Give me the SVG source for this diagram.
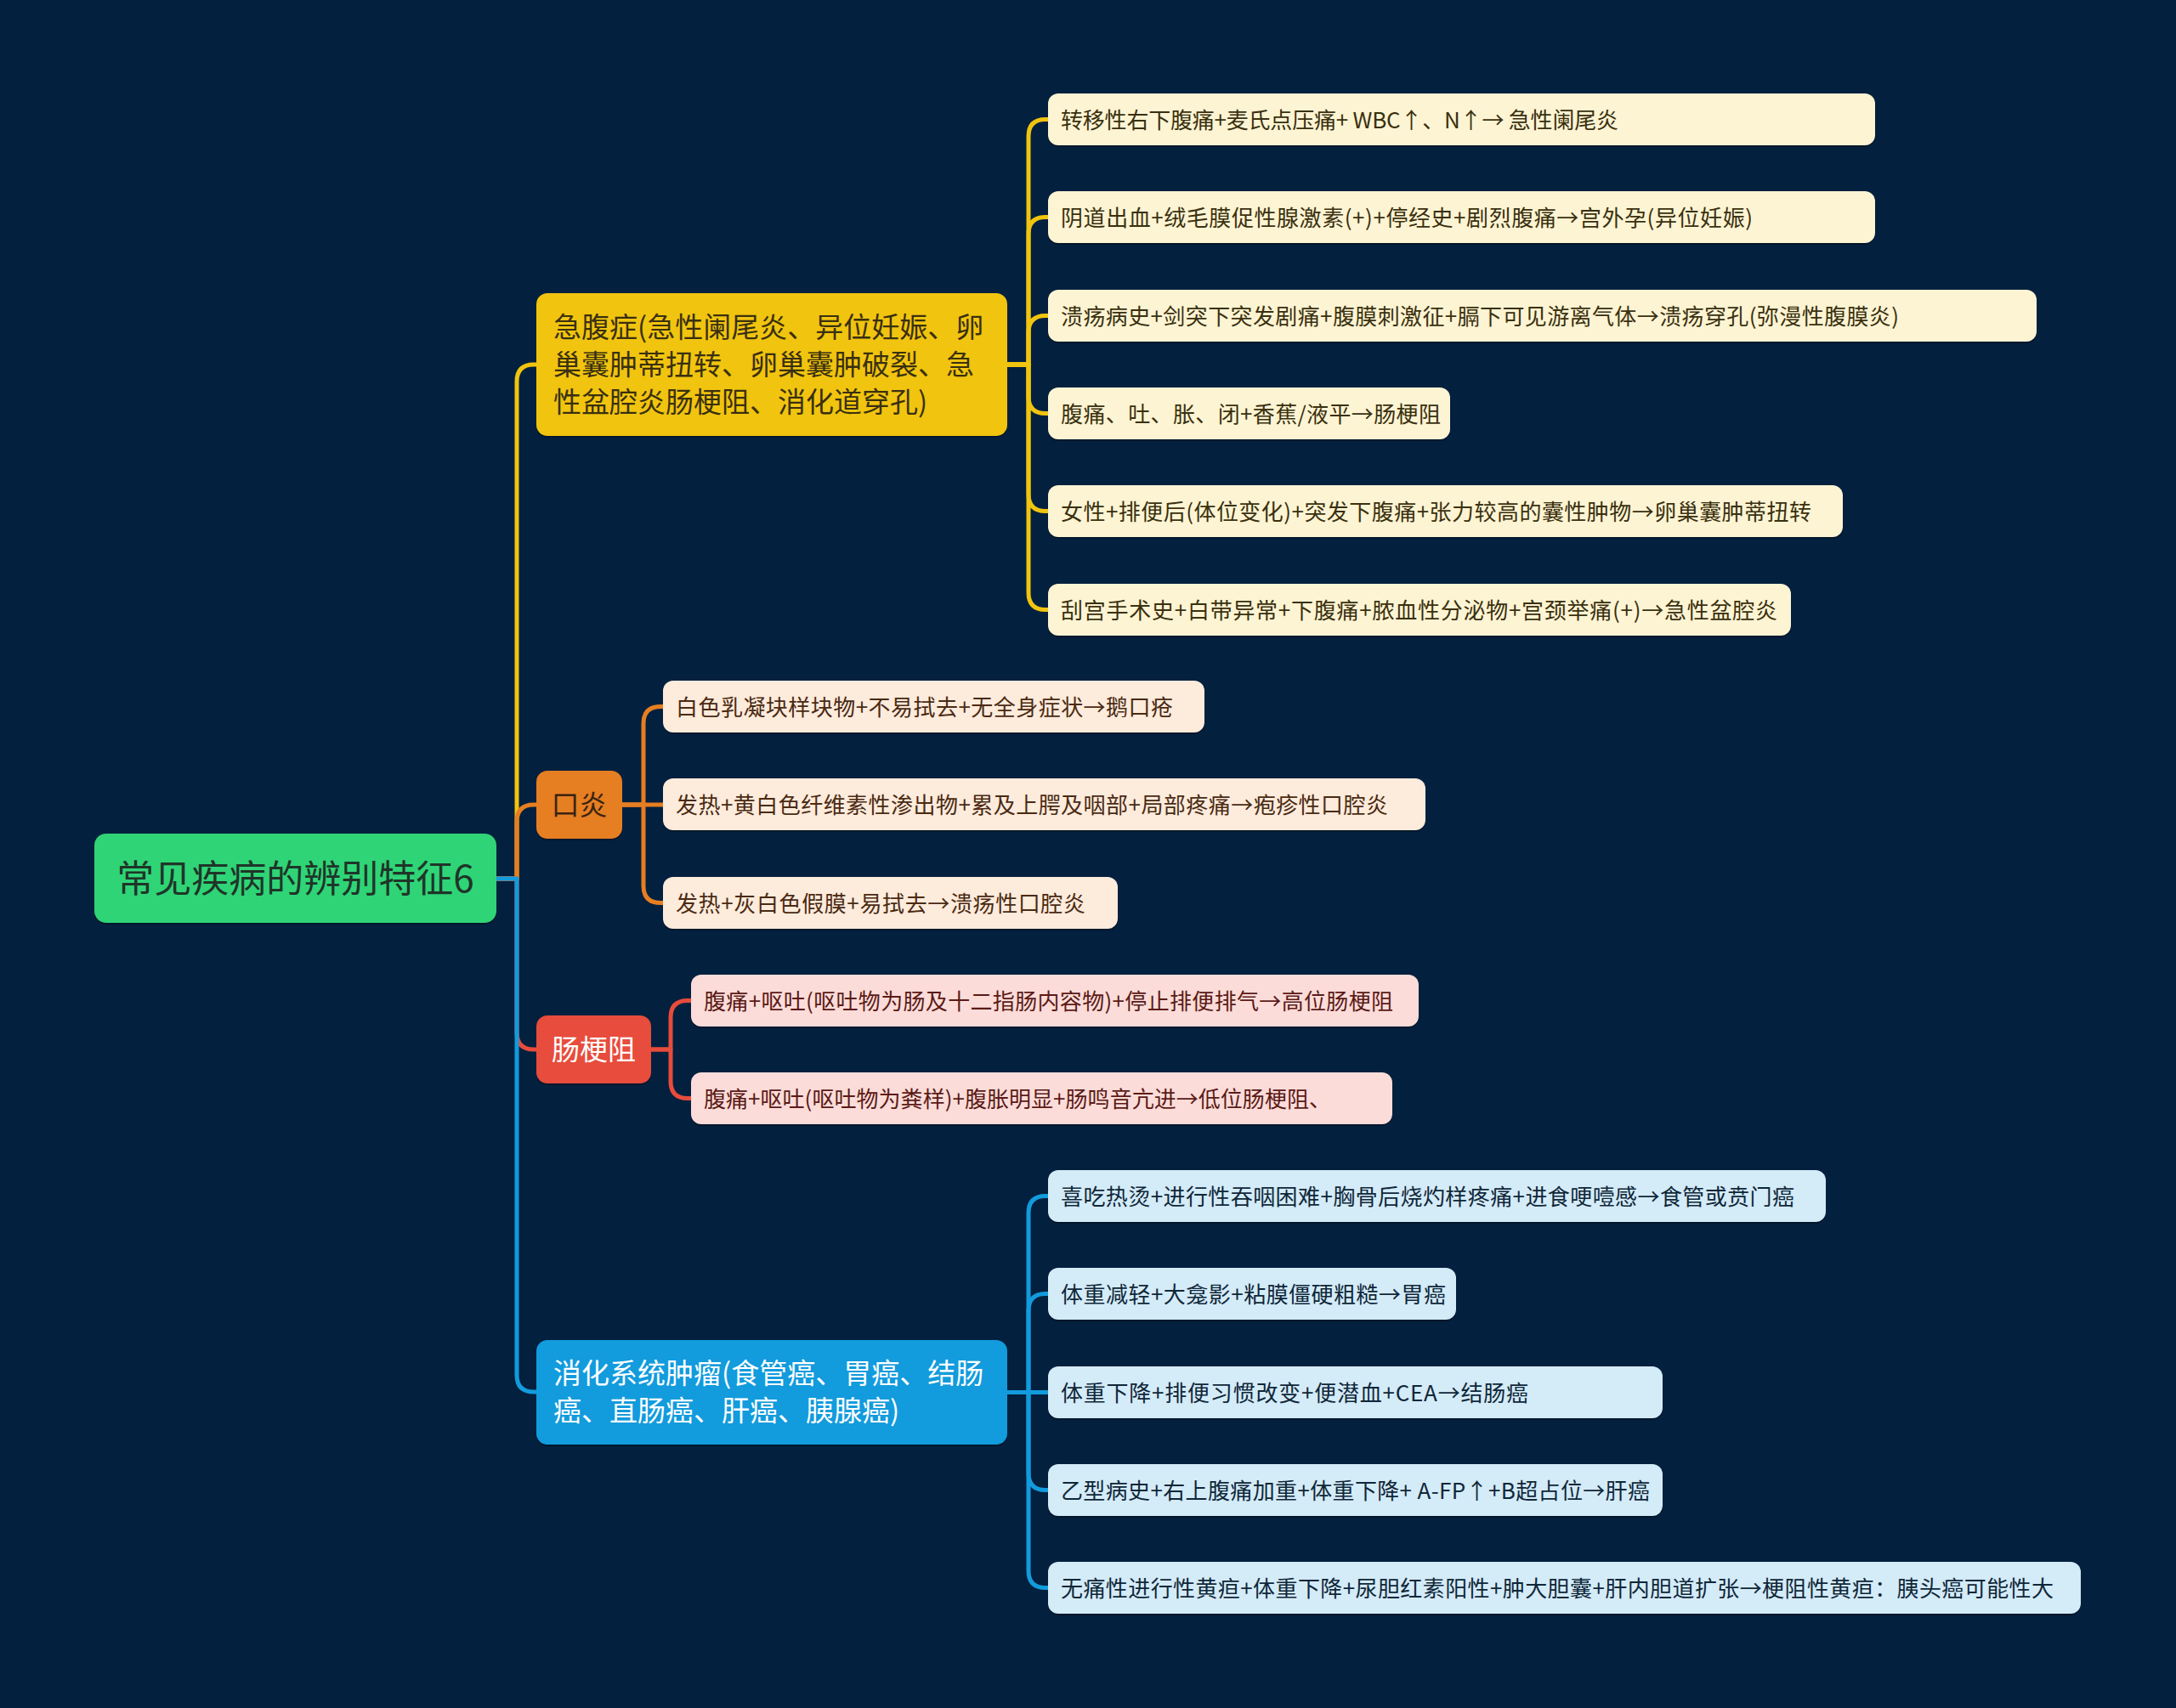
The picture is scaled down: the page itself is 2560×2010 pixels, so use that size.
<svg xmlns="http://www.w3.org/2000/svg" width="2560" height="2010" viewBox="0 0 2560 2010">
<style>
text{font-family:"Noto Sans CJK SC","Noto Sans",sans-serif}
.c{fill:none;stroke-width:5;stroke-linejoin:round;stroke-linecap:butt}
.cy{stroke:#f1c40f}.co{stroke:#e67e22}.cr{stroke:#e74c3c}.cb{stroke:#129bdd}
.sh{fill:#000;opacity:0.28}
.lf{font-size:26px}
.ly rect.b{fill:#fdf4d3}.ly text{fill:#3a300f}
.lo rect.b{fill:#fdebdc}.lo text{fill:#4a2a12}
.lr rect.b{fill:#fbdcd9}.lr text{fill:#5b1a16}
.lb rect.b{fill:#d4ebf8}.lb text{fill:#0f2738}
.m{font-size:33px}
</style>
<rect width="2560" height="2010" fill="#03203e"/>
<g id="connectors">
<path class="c cy" d="M584,1034 H608 V449 Q608,429 628,429 H633"/>
<path class="c co" d="M584,1034 H608 V967 Q608,947 628,947 H633"/>
<path class="c cr" d="M584,1034 H608 V1215 Q608,1235 628,1235 H633"/>
<path class="c cb" d="M584,1034 H608 V1618 Q608,1638 628,1638 H633"/>
<path class="c cy" d="M1185,429 H1210 V160.5 Q1210,140.5 1230,140.5 H1235"/>
<path class="c cy" d="M1185,429 H1210 V275.5 Q1210,255.5 1230,255.5 H1235"/>
<path class="c cy" d="M1185,429 H1210 V391.5 Q1210,371.5 1230,371.5 H1235"/>
<path class="c cy" d="M1185,429 H1210 V466.5 Q1210,486.5 1230,486.5 H1235"/>
<path class="c cy" d="M1185,429 H1210 V581.5 Q1210,601.5 1230,601.5 H1235"/>
<path class="c cy" d="M1185,429 H1210 V697.5 Q1210,717.5 1230,717.5 H1235"/>
<path class="c co" d="M732,947 H757 V851.5 Q757,831.5 777,831.5 H782"/>
<path class="c co" d="M732,947 H782"/>
<path class="c co" d="M732,947 H757 V1042.5 Q757,1062.5 777,1062.5 H782"/>
<path class="c cr" d="M766,1235 H789 V1197.5 Q789,1177.5 809,1177.5 H815"/>
<path class="c cr" d="M766,1235 H789 V1272.5 Q789,1292.5 809,1292.5 H815"/>
<path class="c cb" d="M1185,1638.5 H1210 V1427.5 Q1210,1407.5 1230,1407.5 H1235"/>
<path class="c cb" d="M1185,1638.5 H1210 V1542.5 Q1210,1522.5 1230,1522.5 H1235"/>
<path class="c cb" d="M1185,1638.5 H1235"/>
<path class="c cb" d="M1185,1638.5 H1210 V1733.5 Q1210,1753.5 1230,1753.5 H1235"/>
<path class="c cb" d="M1185,1638.5 H1210 V1848.5 Q1210,1868.5 1230,1868.5 H1235"/>
</g>
<g id="root">
<rect class="sh" x="111" y="983" width="473" height="105" rx="14"/>
<rect x="111" y="981" width="473" height="105" rx="14" fill="#2fd476"/>
<text x="347.5" y="1050" font-size="44" text-anchor="middle" fill="#1f3529">常见疾病的辨别特征6</text>
</g>
<g id="n-jifu">
<rect class="sh" x="631" y="347" width="554" height="168" rx="13"/>
<rect x="631" y="345" width="554" height="168" rx="13" fill="#f1c40f"/>
<text class="m" fill="#3a3010"><tspan x="651" y="397">急腹症(急性阑尾炎、异位妊娠、卵</tspan><tspan x="651" y="441">巢囊肿蒂扭转、卵巢囊肿破裂、急</tspan><tspan x="651" y="485">性盆腔炎肠梗阻、消化道穿孔)</tspan></text>
</g>
<g id="n-kouyan">
<rect class="sh" x="631" y="909" width="101" height="80" rx="13"/>
<rect x="631" y="907" width="101" height="80" rx="13" fill="#e67e22"/>
<text class="m" x="681.5" y="959" text-anchor="middle" fill="#3a2412">口炎</text>
</g>
<g id="n-changgengzu">
<rect class="sh" x="631" y="1197" width="135" height="80" rx="13"/>
<rect x="631" y="1195" width="135" height="80" rx="13" fill="#e74c3c"/>
<text class="m" x="698.5" y="1247" text-anchor="middle" fill="#ffffff">肠梗阻</text>
</g>
<g id="n-xiaohua">
<rect class="sh" x="631" y="1579" width="554" height="123" rx="13"/>
<rect x="631" y="1577" width="554" height="123" rx="13" fill="#129bdd"/>
<text class="m" fill="#ffffff"><tspan x="651" y="1628">消化系统肿瘤(食管癌、胃癌、结肠</tspan><tspan x="651" y="1672">癌、直肠癌、肝癌、胰腺癌)</tspan></text>
</g>
<g id="y1" class="ly"><rect class="sh" x="1233" y="112" width="973" height="61" rx="12"/><rect class="b" x="1233" y="110" width="973" height="61" rx="12"/><text class="lf" x="1248" y="151" textLength="656" lengthAdjust="spacing">转移性右下腹痛+麦氏点压痛+ WBC↑、N↑→ 急性阑尾炎</text></g>
<g id="y2" class="ly"><rect class="sh" x="1233" y="227" width="973" height="61" rx="12"/><rect class="b" x="1233" y="225" width="973" height="61" rx="12"/><text class="lf" x="1248" y="266" textLength="814" lengthAdjust="spacing">阴道出血+绒毛膜促性腺激素(+)+停经史+剧烈腹痛→宫外孕(异位妊娠)</text></g>
<g id="y3" class="ly"><rect class="sh" x="1233" y="343" width="1163" height="61" rx="12"/><rect class="b" x="1233" y="341" width="1163" height="61" rx="12"/><text class="lf" x="1248" y="382" textLength="986" lengthAdjust="spacing">溃疡病史+剑突下突发剧痛+腹膜刺激征+膈下可见游离气体→溃疡穿孔(弥漫性腹膜炎)</text></g>
<g id="y4" class="ly"><rect class="sh" x="1233" y="458" width="473" height="61" rx="12"/><rect class="b" x="1233" y="456" width="473" height="61" rx="12"/><text class="lf" x="1248" y="497" textLength="447" lengthAdjust="spacing">腹痛、吐、胀、闭+香蕉/液平→肠梗阻</text></g>
<g id="y5" class="ly"><rect class="sh" x="1233" y="573" width="935" height="61" rx="12"/><rect class="b" x="1233" y="571" width="935" height="61" rx="12"/><text class="lf" x="1248" y="612" textLength="883" lengthAdjust="spacing">女性+排便后(体位变化)+突发下腹痛+张力较高的囊性肿物→卵巢囊肿蒂扭转</text></g>
<g id="y6" class="ly"><rect class="sh" x="1233" y="689" width="874" height="61" rx="12"/><rect class="b" x="1233" y="687" width="874" height="61" rx="12"/><text class="lf" x="1248" y="728" textLength="843" lengthAdjust="spacing">刮宫手术史+白带异常+下腹痛+脓血性分泌物+宫颈举痛(+)→急性盆腔炎</text></g>
<g id="o1" class="lo"><rect class="sh" x="780" y="803" width="637" height="61" rx="12"/><rect class="b" x="780" y="801" width="637" height="61" rx="12"/><text class="lf" x="795" y="842" textLength="585" lengthAdjust="spacing">白色乳凝块样块物+不易拭去+无全身症状→鹅口疮</text></g>
<g id="o2" class="lo"><rect class="sh" x="780" y="918" width="897" height="61" rx="12"/><rect class="b" x="780" y="916" width="897" height="61" rx="12"/><text class="lf" x="795" y="957" textLength="838" lengthAdjust="spacing">发热+黄白色纤维素性渗出物+累及上腭及咽部+局部疼痛→疱疹性口腔炎</text></g>
<g id="o3" class="lo"><rect class="sh" x="780" y="1034" width="535" height="61" rx="12"/><rect class="b" x="780" y="1032" width="535" height="61" rx="12"/><text class="lf" x="795" y="1073" textLength="482" lengthAdjust="spacing">发热+灰白色假膜+易拭去→溃疡性口腔炎</text></g>
<g id="r1" class="lr"><rect class="sh" x="813" y="1149" width="856" height="61" rx="12"/><rect class="b" x="813" y="1147" width="856" height="61" rx="12"/><text class="lf" x="828" y="1188" textLength="811" lengthAdjust="spacing">腹痛+呕吐(呕吐物为肠及十二指肠内容物)+停止排便排气→高位肠梗阻</text></g>
<g id="r2" class="lr"><rect class="sh" x="813" y="1264" width="825" height="61" rx="12"/><rect class="b" x="813" y="1262" width="825" height="61" rx="12"/><text class="lf" x="828" y="1303" textLength="738" lengthAdjust="spacing">腹痛+呕吐(呕吐物为粪样)+腹胀明显+肠鸣音亢进→低位肠梗阻、</text></g>
<g id="b1" class="lb"><rect class="sh" x="1233" y="1379" width="915" height="61" rx="12"/><rect class="b" x="1233" y="1377" width="915" height="61" rx="12"/><text class="lf" x="1248" y="1418" textLength="863" lengthAdjust="spacing">喜吃热烫+进行性吞咽困难+胸骨后烧灼样疼痛+进食哽噎感→食管或贲门癌</text></g>
<g id="b2" class="lb"><rect class="sh" x="1233" y="1494" width="480" height="61" rx="12"/><rect class="b" x="1233" y="1492" width="480" height="61" rx="12"/><text class="lf" x="1248" y="1533" textLength="453" lengthAdjust="spacing">体重减轻+大龛影+粘膜僵硬粗糙→胃癌</text></g>
<g id="b3" class="lb"><rect class="sh" x="1233" y="1610" width="723" height="61" rx="12"/><rect class="b" x="1233" y="1608" width="723" height="61" rx="12"/><text class="lf" x="1248" y="1649" textLength="550" lengthAdjust="spacing">体重下降+排便习惯改变+便潜血+CEA→结肠癌</text></g>
<g id="b4" class="lb"><rect class="sh" x="1233" y="1725" width="723" height="61" rx="12"/><rect class="b" x="1233" y="1723" width="723" height="61" rx="12"/><text class="lf" x="1248" y="1764" textLength="693" lengthAdjust="spacing">乙型病史+右上腹痛加重+体重下降+ A-FP↑+B超占位→肝癌</text></g>
<g id="b5" class="lb"><rect class="sh" x="1233" y="1840" width="1215" height="61" rx="12"/><rect class="b" x="1233" y="1838" width="1215" height="61" rx="12"/><text class="lf" x="1248" y="1879" textLength="1168" lengthAdjust="spacing">无痛性进行性黄疸+体重下降+尿胆红素阳性+肿大胆囊+肝内胆道扩张→梗阻性黄疸：胰头癌可能性大</text></g>
</svg>
